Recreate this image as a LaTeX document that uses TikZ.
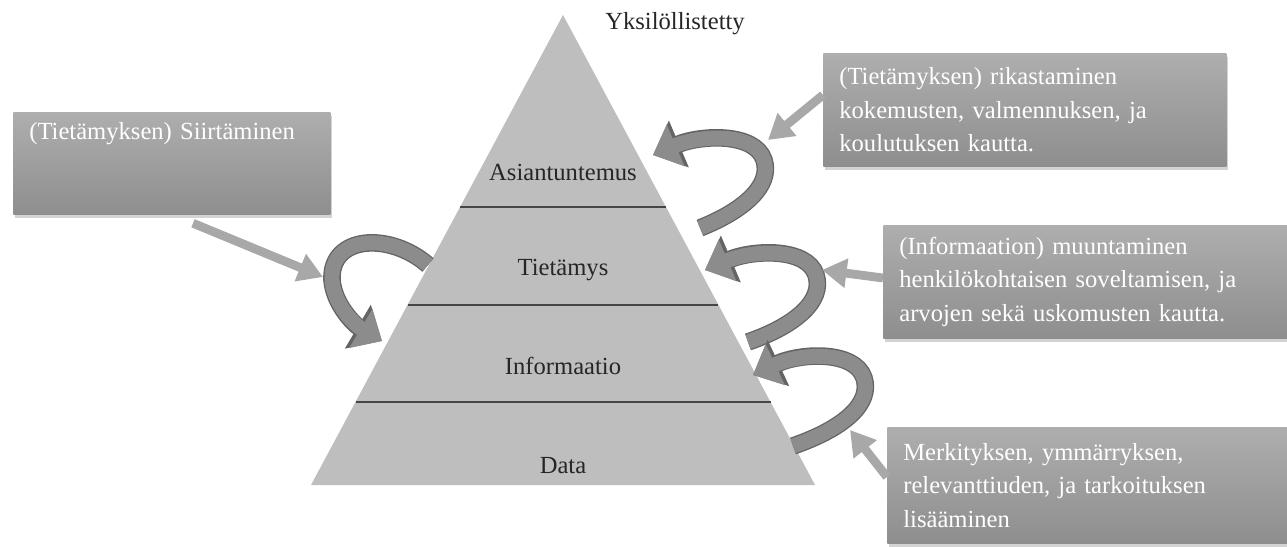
\documentclass[tikz,border=0pt]{standalone}
\usepackage{fontspec}
\setmainfont{Liberation Serif}
\usetikzlibrary{arrows.meta, calc, shadows}
\definecolor{pyramidi}{RGB}{190,190,190}
\definecolor{raja}{RGB}{70,70,70}
\definecolor{laatikkoyla}{RGB}{174,174,174}
\definecolor{laatikkoala}{RGB}{142,142,142}
\definecolor{nuolenvari}{RGB}{168,168,168}
\definecolor{kierrevari}{RGB}{140,140,140}
\definecolor{kierrereuna}{RGB}{100,100,100}
\tikzset{
    laatikko/.style={
        rectangle, anchor=north west,
        top color=laatikkoyla, bottom color=laatikkoala,
        drop shadow={opacity=0.35, shadow xshift=1pt, shadow yshift=-2pt},
        text=white, align=left,
        inner xsep=0.32cm, inner ysep=0.2cm,
        font=\fontsize{14}{19}\selectfont
    },
    taso/.style={font=\fontsize{14}{17}\selectfont, text=black!85},
    nuoli/.style={draw=nuolenvari, line width=5pt, -{Triangle[width=16pt, length=14pt]}},
    kierre/.style={
        draw=kierrevari, line width=8.5pt, -{Triangle[width=25pt, length=14pt]},
        preaction={draw=kierrereuna, line width=10pt, -{Triangle[width=28pt, length=16pt]}}
    }
}

\begin{document}
\begin{tikzpicture}[x=0.02cm, y=-0.02cm]
    \useasboundingbox (0,0) rectangle (1287,547);

    % pyramidi
    \coordinate (huippu) at (563,15);
    \coordinate (vasenkanta) at (311,485);
    \coordinate (oikeakanta) at (815,485);
    \fill[pyramidi] (huippu) -- (oikeakanta) -- (vasenkanta) -- cycle;
    \foreach \t in {0.4085, 0.617, 0.8234}
        \draw[raja, line width=0.8pt] ($(huippu)!\t!(vasenkanta)$) -- ($(huippu)!\t!(oikeakanta)$);

    \node[taso] (asiantuntemus) at (563,172) {Asiantuntemus};
    \node[taso] (tietamys) at (563,270) {Tietämys};
    \node[taso] (informaatio) at (563,366) {Informaatio};
    \node[taso] (data) at (563,466) {Data};
    \node[taso] (yksilollistetty) at (675,24) {Yksilöllistetty};

    % kierteet
    \draw[kierre] (428,265) .. controls (390,232) and (330,235) .. (332,280)
        .. controls (334,305) and (355,325) .. (382,341);
    \draw[kierre] (700,228) .. controls (745,210) and (772,185) .. (764,160)
        .. controls (755,132) and (700,135) .. (653,155);
    \draw[kierre] (748,342) .. controls (797,325) and (824,300) .. (816,275)
        .. controls (807,247) and (752,250) .. (705,270);
    \draw[kierre] (793,446) .. controls (845,428) and (872,403) .. (864,378)
        .. controls (855,350) and (800,353) .. (753,375);

    % laatikot
    \node[laatikko, text width=5.70cm, text depth=1.31cm] (siirtaminen) at (13,112)
        {(Tietämyksen) Siirtäminen};
    \node[laatikko, text width=7.42cm, minimum height=2.26cm] (rikastaminen) at (823,53)
        {(Tietämyksen) rikastaminen\\kokemusten, valmennuksen, ja\\koulutuksen kautta.};
    \node[laatikko, text width=7.44cm, minimum height=2.26cm] (muuntaminen) at (883,225)
        {(Informaation) muuntaminen\\henkilökohtaisen soveltamisen, ja\\arvojen sekä uskomusten kautta.};
    \node[laatikko, text width=7.36cm, minimum height=2.32cm] (lisaaminen) at (887,427)
        {Merkityksen, ymmärryksen,\\relevanttiuden, ja tarkoituksen\\lisääminen};

    % nuolet
    \coordinate (siirtokohta) at (323,277);
    \coordinate (rikastuskohta) at (768,140);
    \coordinate (muuntokohta) at (822,270);
    \coordinate (lisayskohta) at (850,430);
    \draw[nuoli] ($(siirtaminen.south west)+(180,8)$) -- (siirtokohta);
    \draw[nuoli] ($(rikastaminen.north west)+(0,42)$) -- (rikastuskohta);
    \draw[nuoli] ($(muuntaminen.north west)+(0,53)$) -- (muuntokohta);
    \draw[nuoli] ($(lisaaminen.north west)+(0,50)$) -- (lisayskohta);

\end{tikzpicture}
\end{document}
